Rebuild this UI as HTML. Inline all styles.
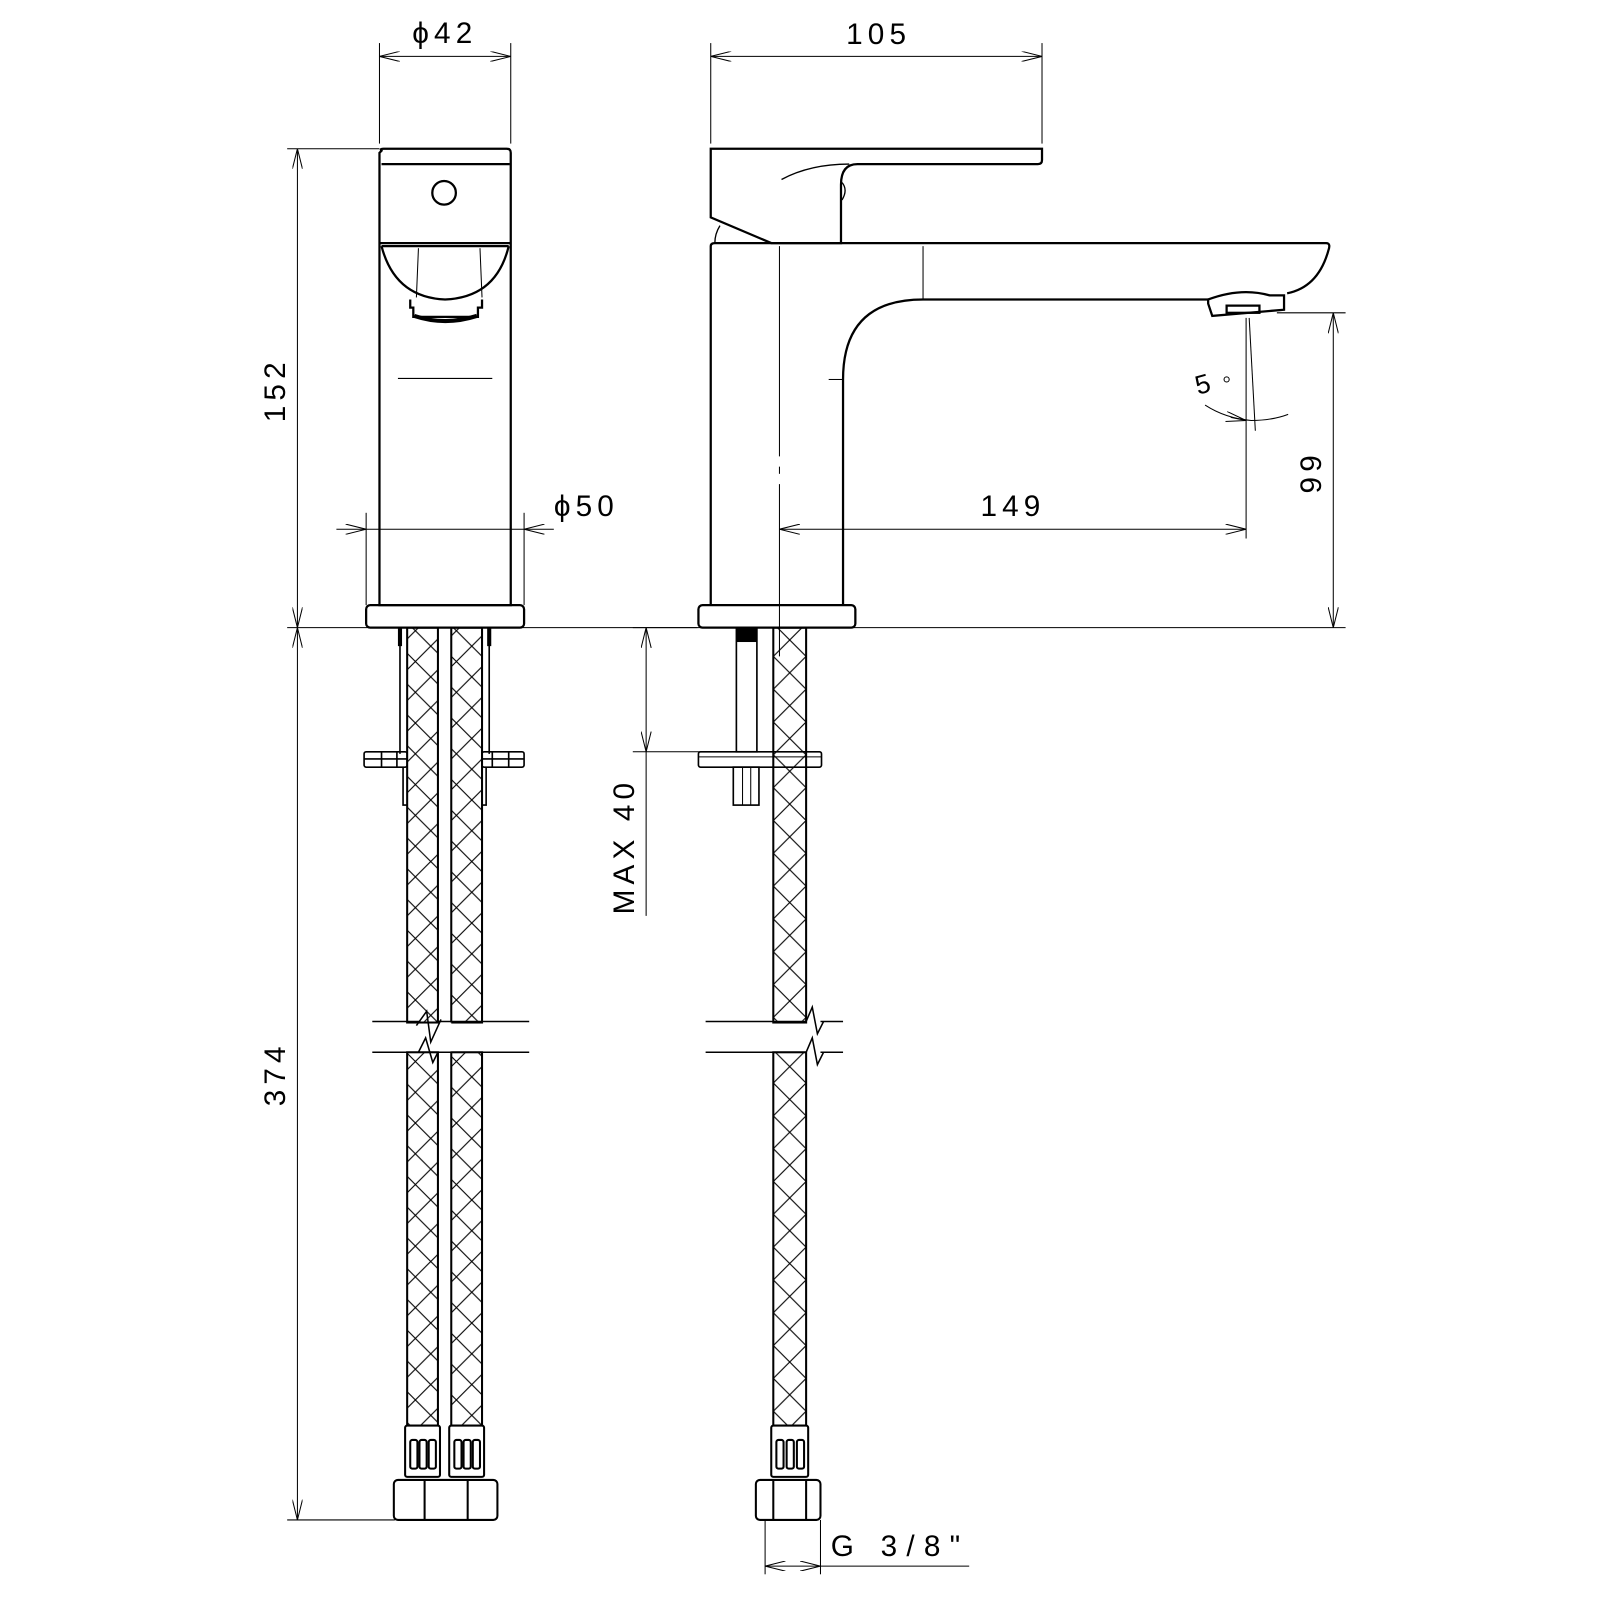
<!DOCTYPE html>
<html><head><meta charset="utf-8"><style>
html,body{margin:0;padding:0;background:#fff;}
svg{display:block;}
text{font-family:"Liberation Sans",sans-serif;font-size:29px;fill:#000;letter-spacing:5px;}
</style></head><body>
<svg width="1600" height="1600" viewBox="0 0 1600 1600" xmlns="http://www.w3.org/2000/svg">
<defs>
<pattern id="h" patternUnits="userSpaceOnUse" width="30" height="30" x="0" y="0">
<path d="M0 0L30 30M30 0L0 30" stroke="#000" stroke-width="1.1" fill="none"/>
</pattern>
<pattern id="h2" patternUnits="userSpaceOnUse" width="30" height="30" x="10" y="0">
<path d="M0 0L30 30M30 0L0 30" stroke="#000" stroke-width="1.1" fill="none"/>
</pattern>
<pattern id="h3" patternUnits="userSpaceOnUse" width="32" height="32" x="754" y="0">
<path d="M0 0L32 32M32 0L0 32" stroke="#000" stroke-width="1.1" fill="none"/>
</pattern>
<marker id="a" viewBox="0 0 20 10" refX="20" refY="5" markerWidth="20" markerHeight="10" markerUnits="userSpaceOnUse" orient="auto-start-reverse">
<path d="M0 0L20 5L0 10" fill="none" stroke="#000" stroke-width="1"/>
</marker>
</defs>
<g transform="scale(1.0256)">
<g fill="none" stroke="#000" stroke-width="1">
<line x1="370" y1="42" x2="370" y2="140"/><line x1="498" y1="42" x2="498" y2="140"/>
<line x1="370" y1="55" x2="498" y2="55" marker-start="url(#a)" marker-end="url(#a)"/>
<line x1="280" y1="145" x2="370" y2="145"/>
<line x1="280" y1="612" x2="1312" y2="612"/>
<line x1="290" y1="145" x2="290" y2="612" marker-start="url(#a)" marker-end="url(#a)"/>
<line x1="290" y1="612" x2="290" y2="1482" marker-start="url(#a)" marker-end="url(#a)"/>
<line x1="280" y1="1482" x2="385" y2="1482"/>
<line x1="357" y1="500" x2="357" y2="590"/><line x1="511" y1="500" x2="511" y2="590"/>
<line x1="328" y1="516" x2="357" y2="516" marker-end="url(#a)"/>
<line x1="540" y1="516" x2="511" y2="516" marker-end="url(#a)"/>
<line x1="357" y1="516" x2="511" y2="516"/>
<line x1="388" y1="369" x2="480" y2="369"/>
</g>

<g fill="none" stroke="#000" stroke-width="2.2">
<path d="M372 147 Q370 145 374 145 L494 145 Q498 145 498 149 L498 590 L370 590 L370 149 Z"/>
<line x1="372" y1="160" x2="497" y2="160"/>
<line x1="370" y1="237" x2="498" y2="237"/>
<circle cx="433" cy="188" r="11.5"/>
<path d="M372 240 Q385 290 434 292 Q484 290 496 240"/>
<path d="M372 240 L496 240"/>
<path d="M400 292 L400 300 L403 300 L403 309 L466 309 L466 300 L470 300 L470 292"/>
<path d="M404 308 Q434 318 465 308" stroke-width="4"/>
<rect x="357" y="590" width="154" height="22" rx="4"/>
</g>
<g fill="none" stroke="#000" stroke-width="1">
<path d="M408 242 L406 290 M468 242 L470 290"/>
</g>

<g stroke="#000" stroke-width="2">
<rect x="397" y="612" width="30" height="385" fill="url(#h)"/>
<rect x="440" y="612" width="30" height="385" fill="url(#h2)"/>
<rect x="397" y="1026" width="30" height="366" fill="url(#h)"/>
<rect x="440" y="1026" width="30" height="366" fill="url(#h2)"/>
</g>
<g fill="none" stroke="#000" stroke-width="1.6">
<line x1="390" y1="612" x2="390" y2="735"/><line x1="477" y1="612" x2="477" y2="735"/>
<line x1="390" y1="612" x2="390" y2="630" stroke-width="4"/><line x1="477" y1="612" x2="477" y2="630" stroke-width="4"/>
<rect x="355" y="733" width="42" height="15" rx="2"/>
<rect x="470" y="733" width="41" height="15" rx="2"/>
<line x1="372" y1="733" x2="372" y2="748"/><line x1="387" y1="733" x2="387" y2="748"/>
<line x1="480" y1="733" x2="480" y2="748"/><line x1="496" y1="733" x2="496" y2="748"/>
<line x1="355" y1="740" x2="397" y2="740"/><line x1="470" y1="740" x2="511" y2="740"/>
<path d="M393 748 L393 785 L397 785"/><path d="M474 748 L474 785 L470 785"/>
</g>
<rect x="428" y="997" width="12" height="28" fill="#fff"/>
<g fill="none" stroke="#000" stroke-width="1.5">
<line x1="363" y1="996" x2="410" y2="996"/><line x1="425" y1="996" x2="516" y2="996"/>
<line x1="363" y1="1026" x2="410" y2="1026"/><line x1="425" y1="1026" x2="516" y2="1026"/>
<path d="M406 1000 L416 986 L420 1016 L430 994"/>
<path d="M408 1026 L415 1012 L422 1036 L427 1026"/>
<line x1="688" y1="996" x2="786" y2="996"/><line x1="800" y1="996" x2="822" y2="996"/>
<line x1="688" y1="1026" x2="786" y2="1026"/><line x1="800" y1="1026" x2="822" y2="1026"/>
<path d="M786 996 L792 982 L797 1008 L803 996"/>
<path d="M786 1026 L792 1012 L797 1038 L803 1026"/>
</g>

<g fill="#fff" stroke="#000" stroke-width="2">
<rect x="395" y="1390" width="34" height="50" rx="2"/>
<rect x="438" y="1390" width="34" height="50" rx="2"/>
<rect x="400" y="1404" width="7" height="28" rx="2"/><rect x="409" y="1404" width="7" height="28" rx="2"/><rect x="418" y="1404" width="7" height="28" rx="2"/>
<rect x="443" y="1404" width="7" height="28" rx="2"/><rect x="452" y="1404" width="7" height="28" rx="2"/><rect x="461" y="1404" width="7" height="28" rx="2"/>
<rect x="384" y="1443" width="101" height="39" rx="4"/>
<line x1="414" y1="1443" x2="414" y2="1482"/><line x1="456" y1="1443" x2="456" y2="1482"/>
</g>

<g fill="none" stroke="#000" stroke-width="1">
<line x1="693" y1="42" x2="693" y2="140"/><line x1="1016" y1="42" x2="1016" y2="140"/>
<line x1="693" y1="55" x2="1016" y2="55" marker-start="url(#a)" marker-end="url(#a)"/>
<line x1="760" y1="240" x2="760" y2="445"/>
<line x1="760" y1="455" x2="760" y2="462"/>
<line x1="760" y1="472" x2="760" y2="640"/>
<line x1="900" y1="240" x2="900" y2="292"/>
<line x1="808" y1="370" x2="822" y2="370"/>
<line x1="760" y1="516" x2="1215" y2="516" marker-start="url(#a)" marker-end="url(#a)"/>
<line x1="1215" y1="310" x2="1215" y2="525"/>
<line x1="1218" y1="310" x2="1224" y2="420"/>
<line x1="1245" y1="305" x2="1312" y2="305"/>
<line x1="1300" y1="305" x2="1300" y2="612" marker-start="url(#a)" marker-end="url(#a)"/>
<path d="M1175 395 Q1195 408 1220 410 Q1240 410 1256 404"/>
<line x1="1200" y1="407" x2="1215" y2="410" marker-end="url(#a)"/>
<line x1="617" y1="612" x2="680" y2="612"/>
<line x1="617" y1="733" x2="800" y2="733"/>
<line x1="630" y1="612" x2="630" y2="733" marker-start="url(#a)" marker-end="url(#a)"/>
<line x1="630" y1="733" x2="630" y2="893"/>
<line x1="746" y1="1482" x2="746" y2="1535"/><line x1="800" y1="1482" x2="800" y2="1535"/>
<line x1="746" y1="1527" x2="800" y2="1527" marker-start="url(#a)" marker-end="url(#a)"/>
<line x1="800" y1="1527" x2="945" y2="1527"/>
</g>
<g fill="none" stroke="#000" stroke-width="2.2">
<path d="M693 148 L693 212 L752 237 L820 237 L820 180 Q820 160 836 160 L1012 160 Q1016 160 1016 156 L1016 145 L693 145 Z"/>
<path d="M762 175 Q790 160 828 160" stroke-width="1.3"/>
<path d="M821 178 Q827 185 821 195" stroke-width="1.3"/>
<path d="M702 220 Q697 228 697 237" stroke-width="1.3"/>
<path d="M693 590 L693 240 Q693 237 697 237 L1293 237 Q1298 237 1295 245 Q1285 280 1255 286"/>
<path d="M822 590 L822 370 Q822 292 900 292 L1178 292"/>
<path d="M1178 292 Q1210 280 1238 288 L1252 288 L1252 302 L1182 308 L1178 296 Z"/>
<rect x="1196" y="298" width="32" height="7"/>
<rect x="681" y="590" width="153" height="22" rx="4"/>
<rect x="718" y="612" width="20" height="121" stroke-width="1.6"/>
<rect x="718" y="612" width="20" height="14" fill="#000" stroke="none"/>
<rect x="681" y="733" width="120" height="15" rx="2" stroke-width="1.6"/>
<line x1="681" y1="738" x2="801" y2="738" stroke-width="1"/>
<rect x="715" y="748" width="25" height="37" stroke-width="1.6"/>
<line x1="724" y1="748" x2="724" y2="785" stroke-width="1"/><line x1="732" y1="748" x2="732" y2="785" stroke-width="1"/>
</g>
<g stroke="#000" stroke-width="2">
<rect x="754" y="612" width="32" height="385" fill="url(#h3)"/>
<rect x="754" y="1026" width="32" height="366" fill="url(#h3)"/>
</g>
<g fill="#fff" stroke="#000" stroke-width="2">
<rect x="752" y="1390" width="36" height="50" rx="2"/>
<rect x="757" y="1404" width="7" height="28" rx="2"/><rect x="767" y="1404" width="7" height="28" rx="2"/><rect x="777" y="1404" width="7" height="28" rx="2"/>
<rect x="737" y="1443" width="63" height="39" rx="4"/>
<line x1="754" y1="1443" x2="754" y2="1482"/><line x1="786" y1="1443" x2="786" y2="1482"/>
</g>

<text x="402" y="42">ϕ42</text>
<text x="825" y="43">105</text>
<text x="540" y="503">ϕ50</text>
<text x="956" y="503">149</text>
<text transform="translate(278,380) rotate(-90)" text-anchor="middle">152</text>
<text transform="translate(278,1047) rotate(-90)" text-anchor="middle">374</text>
<text transform="translate(1288,460) rotate(-90)" text-anchor="middle">99</text>
<text transform="translate(618,825) rotate(-90)" text-anchor="middle">MAX 40</text>
<text transform="translate(1168,385) rotate(-15)" style="font-size:26px">5</text>
<circle cx="1196" cy="370" r="2.5" fill="none" stroke="#000"/>
<text x="810" y="1517" style="letter-spacing:9px">G 3/8"</text>
</g>
</svg>
</body></html>
